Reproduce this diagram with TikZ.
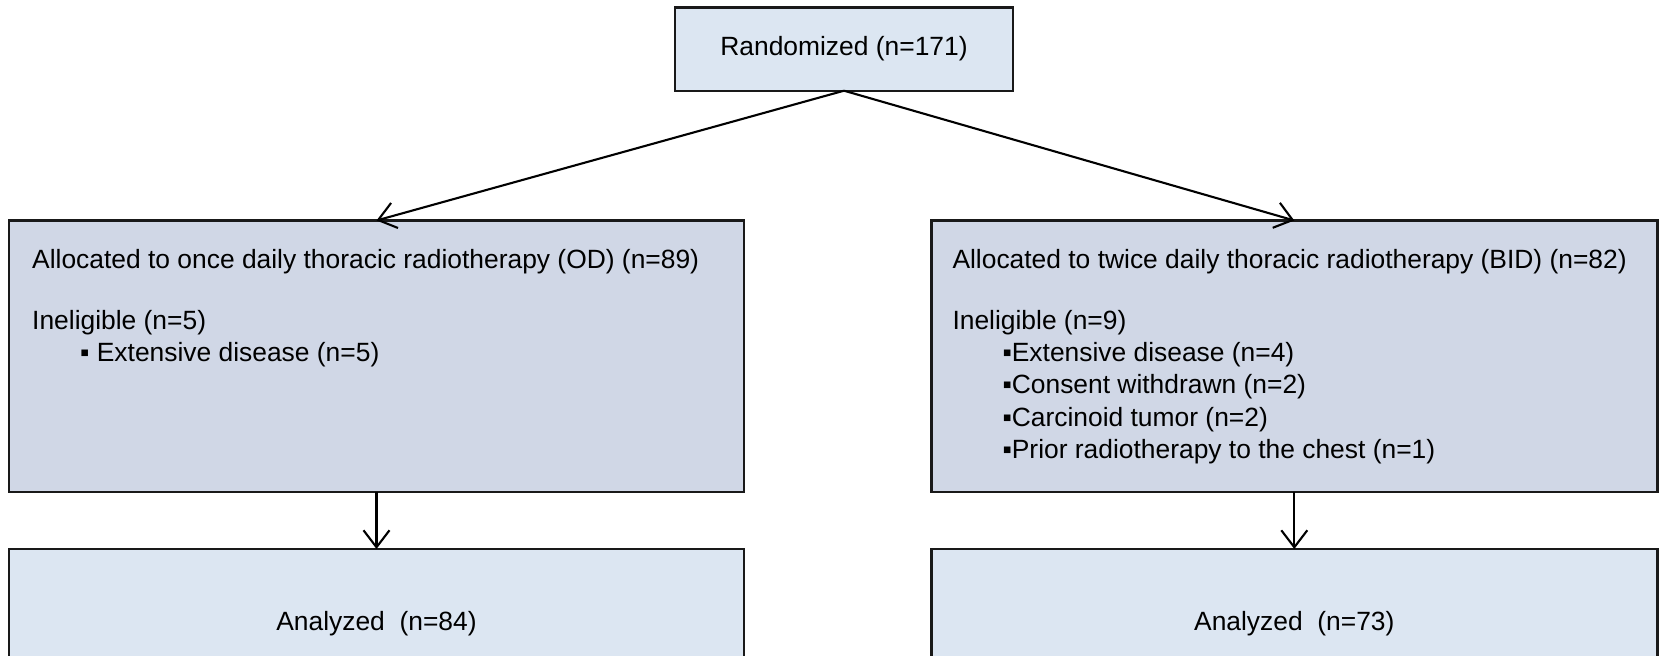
\documentclass[tikz,border=0pt]{standalone}
\usepackage{fontspec}
\setmainfont{Liberation Sans}
\usepackage{xcolor}
\usetikzlibrary{arrows.meta,positioning}

\definecolor{lightfill}{RGB}{220,230,242}
\definecolor{armfill}{RGB}{208,215,230}

\begin{document}
\begin{tikzpicture}[>={Straight Barb[length=17pt,width=26pt]},
    font=\fontsize{26.4pt}{32.3pt}\selectfont,
    box/.style={rectangle, draw=black!90, line width=2.4pt, outer sep=0pt, inner sep=0pt},
    topbox/.style={box, fill=lightfill, minimum width=338pt, minimum height=83.4pt},
    armbox/.style={box, fill=armfill, minimum height=271.5pt},
    resbox/.style={box, fill=lightfill, minimum height=150pt},
    listtext/.style={align=left, inner sep=0pt, anchor=north west},
    flow/.style={->, line width=2.1pt}]
    \path[use as bounding box, clip] (0,0) rectangle (1663pt,-656pt);
    \node[topbox] (rand) at (844pt,-49pt) {Randomized (n=171)};
    \node[armbox, minimum width=735pt, below=129.8pt of rand, xshift=-467.5pt] (od) {};
    \node[armbox, minimum width=726pt, right=187.3pt of od] (bid) {};
    \node[listtext] (odtxt) at ([shift={(23pt,-29pt)}]od.north west)
        {Allocated to once daily thoracic radiotherapy (OD) (n=89)\\[28pt]
         Ineligible (n=5)\\
         \hspace*{48pt}▪ Extensive disease (n=5)};
    \node[listtext] (bidtxt) at ([shift={(21pt,-29pt)}]bid.north west)
        {Allocated to twice daily thoracic radiotherapy (BID) (n=82)\\[28pt]
         Ineligible (n=9)\\
         \hspace*{50pt}▪Extensive disease (n=4)\\
         \hspace*{50pt}▪Consent withdrawn (n=2)\\
         \hspace*{50pt}▪Carcinoid tumor (n=2)\\
         \hspace*{50pt}▪Prior radiotherapy to the chest (n=1)};
    \node[resbox, minimum width=735pt, below=57pt of od] (odres) {Analyzed\ \ (n=84)};
    \node[resbox, minimum width=726pt, below=57pt of bid] (bidres) {Analyzed\ \ (n=73)};
    \draw[flow] (rand.south) -- (od.north);
    \draw[flow] (rand.south) -- (bid.north);
    \draw[flow] (od) -- (odres);
    \draw[flow] (bid) -- (bidres);
\end{tikzpicture}
\end{document}
